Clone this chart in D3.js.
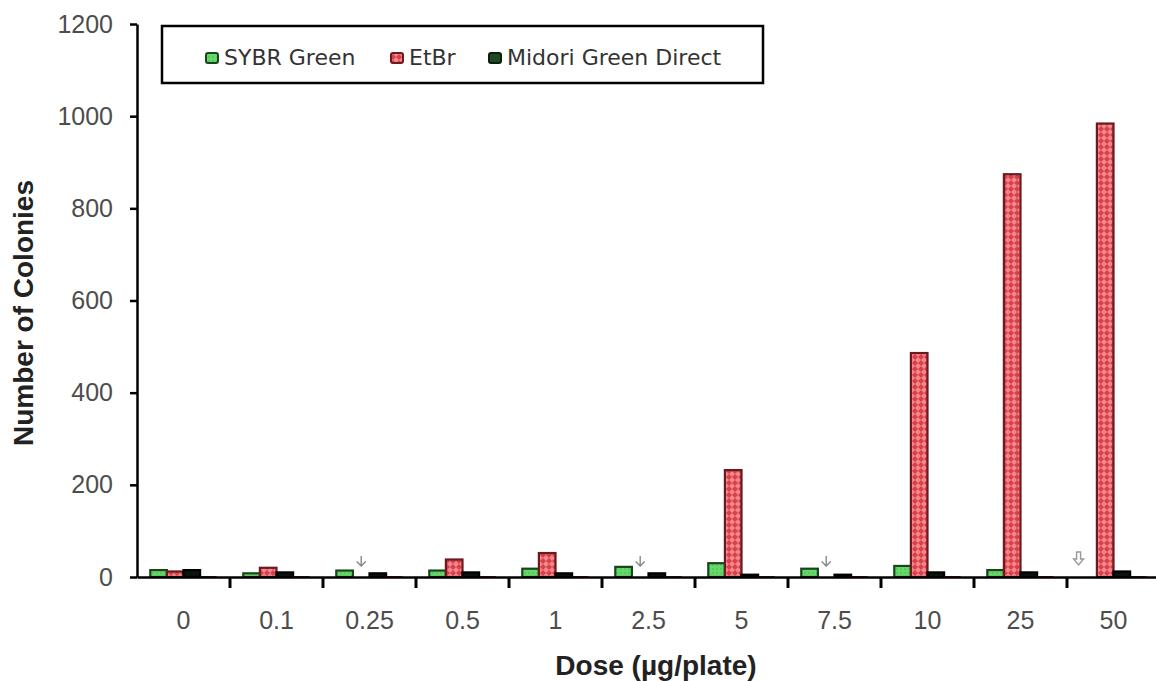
<!DOCTYPE html>
<html>
<head>
<meta charset="utf-8">
<script src="https://cdn.jsdelivr.net/npm/d3@7"></script>
<style>
  body { margin: 0; background: #fff; }
  svg { display: block; }
</style>
</head>
<body>
<div id="chart"></div>
<script>
// chart data
const doses = ["0", "0.1", "0.25", "0.5", "1", "2.5", "5", "7.5", "10", "25", "50"];
const sybrGreen = [15, 8, 14, 14, 18, 22, 30, 18, 24, 15, 0];
const etbr = [12, 20, 0, 38, 52, 0, 232, 0, 486, 874, 984];
const midori = [15, 10, 8, 10, 8, 8, 5, 5, 10, 10, 12];
const baseline = [2, 2, 2, 2, 2, 2, 2, 2, 2, 2, 2]; // thin dark red series, not in legend
const yTicks = [0, 200, 400, 600, 800, 1000, 1200];
// toxicity arrows: [dose index, series, hollow?]
const arrows = [[2, "etbr", false], [5, "etbr", false], [7, "etbr", false], [10, "sybr", true]];

const width = 1156, height = 681;
const margin = {top: 24, right: -4, bottom: 104, left: 137};

const svg = d3.select("#chart")
  .append("svg")
  .attr("width", width)
  .attr("height", height);

const defs = svg.append("defs");

// red woven pattern
const pr = defs.append("pattern")
  .attr("id", "redPat")
  .attr("patternUnits", "userSpaceOnUse")
  .attr("width", 6).attr("height", 6);
pr.append("rect").attr("width", 6).attr("height", 6).attr("fill", "#f2888c");
pr.append("path").attr("d", "M0,3 L3,0 L6,3 L3,6 Z").attr("fill", "#d9404a");

// green dotted pattern
const pg = defs.append("pattern")
  .attr("id", "greenPat")
  .attr("patternUnits", "userSpaceOnUse")
  .attr("width", 4).attr("height", 4);
pg.append("rect").attr("width", 4).attr("height", 4).attr("fill", "#66d86a");
pg.append("circle").attr("cx", 1).attr("cy", 1).attr("r", 0.7).attr("fill", "#3bb04a");

const series = [
  {key: "sybr", name: "SYBR Green", values: sybrGreen, fill: "url(#greenPat)", stroke: "#17451c"},
  {key: "etbr", name: "EtBr", values: etbr, fill: "url(#redPat)", stroke: "#6b1a20"},
  {key: "midori", name: "Midori Green Direct", values: midori, fill: "#0b140c", stroke: "#000"},
  {key: "base", name: "", values: baseline, fill: "#7a1418", stroke: "none"}
];

const x = d3.scaleBand()
  .domain(doses)
  .range([margin.left, width - margin.right])
  .padding(0);

const x1 = d3.scaleBand()
  .domain(series.map(s => s.key))
  .range([0, x.bandwidth()])
  .paddingInner(0)
  .paddingOuter(0.8);

const y = d3.scaleLinear()
  .domain([0, 1200])
  .range([height - margin.bottom, margin.top]);

// bars
series.forEach(s => {
  svg.append("g")
    .selectAll("rect")
    .data(doses.map((d, i) => ({dose: d, v: s.values[i]})))
    .join("rect")
      .attr("x", d => x(d.dose) + x1(s.key))
      .attr("y", d => y(d.v))
      .attr("width", x1.bandwidth())
      .attr("height", d => y(0) - y(d.v))
      .attr("fill", s.fill)
      .attr("stroke", s.stroke)
      .attr("stroke-width", d => d.v > 0 ? 2.2 : 0);
});

// arrows for missing bars
const arrowG = svg.append("g")
  .selectAll("g")
  .data(arrows)
  .join("g")
    .attr("transform", d => {
      const cx = x(doses[d[0]]) + x1(d[1]) + x1.bandwidth() / 2 - (d[2] ? 10 : 0);
      return `translate(${cx},${y(0) - 21})`;
    });
arrowG.filter(d => !d[2]).append("path")
  .attr("d", "M0,0 L0,10 M-4.5,5.5 L0,10 L4.5,5.5")
  .attr("fill", "none")
  .attr("stroke", "#888")
  .attr("stroke-width", 1.4);
arrowG.filter(d => d[2]).append("path")
  .attr("d", "M-2,-4 L2,-4 L2,3 L5,3 L0,9 L-5,3 L-2,3 Z")
  .attr("fill", "#fff")
  .attr("stroke", "#999")
  .attr("stroke-width", 1.4);

// y axis
const yAxis = svg.append("g")
  .attr("transform", `translate(${margin.left},0)`)
  .call(d3.axisLeft(y).tickValues(yTicks).tickFormat(d3.format("d"))
    .tickSize(7).tickPadding(17).tickSizeOuter(0));
yAxis.select(".domain").attr("stroke", "#000").attr("stroke-width", 2.5);
yAxis.selectAll(".tick line").attr("stroke", "#000").attr("stroke-width", 2.5);
yAxis.selectAll("text")
  .attr("font-family", "Liberation Sans, Arial, sans-serif")
  .attr("font-size", 25)
  .attr("fill", "#4d4d4d");

// x axis (labels at centres, ticks at category boundaries)
const xAxis = svg.append("g")
  .attr("transform", `translate(0,${y(0)})`)
  .call(d3.axisBottom(x).tickSize(0).tickPadding(34).tickSizeOuter(0));
xAxis.select(".domain").attr("stroke", "#000").attr("stroke-width", 2.5);
xAxis.selectAll("text")
  .attr("font-family", "Liberation Sans, Arial, sans-serif")
  .attr("font-size", 25)
  .attr("fill", "#4d4d4d");

svg.append("g")
  .selectAll("line")
  .data(doses.slice(0, -1))
  .join("line")
    .attr("x1", d => x(d) + x.bandwidth())
    .attr("x2", d => x(d) + x.bandwidth())
    .attr("y1", y(0))
    .attr("y2", y(0) + 11)
    .attr("stroke", "#000")
    .attr("stroke-width", 3);

// axis titles
svg.append("text")
  .attr("x", 656)
  .attr("y", 675)
  .attr("text-anchor", "middle")
  .attr("font-family", "Liberation Sans, Arial, sans-serif")
  .attr("font-weight", "bold")
  .attr("font-size", 28)
  .attr("fill", "#222")
  .text("Dose (µg/plate)");

svg.append("text")
  .attr("transform", "translate(33,313) rotate(-90)")
  .attr("text-anchor", "middle")
  .attr("font-family", "Liberation Sans, Arial, sans-serif")
  .attr("font-weight", "bold")
  .attr("font-size", 28)
  .attr("fill", "#222")
  .text("Number of Colonies");

// legend
const legend = svg.append("g");
legend.append("rect")
  .attr("x", 162).attr("y", 26)
  .attr("width", 601).attr("height", 57)
  .attr("fill", "#fff")
  .attr("stroke", "#000")
  .attr("stroke-width", 2.5);

const legendX = [206, 391, 489];
series.slice(0, 3).forEach((s, i) => {
  legend.append("rect")
    .attr("x", legendX[i]).attr("y", 53)
    .attr("width", 12).attr("height", 10)
    .attr("rx", 2)
    .attr("fill", s.key === "midori" ? "#1f4a22" : s.fill)
    .attr("stroke", s.key === "midori" ? "#0a200c" : s.stroke)
    .attr("stroke-width", 2);
  legend.append("text")
    .attr("x", legendX[i] + 18).attr("y", 65)
    .attr("font-family", "DejaVu Sans, sans-serif")
    .attr("font-size", 22)
    .attr("fill", "#333")
    .text(s.name);
});
</script>
</body>
</html>
